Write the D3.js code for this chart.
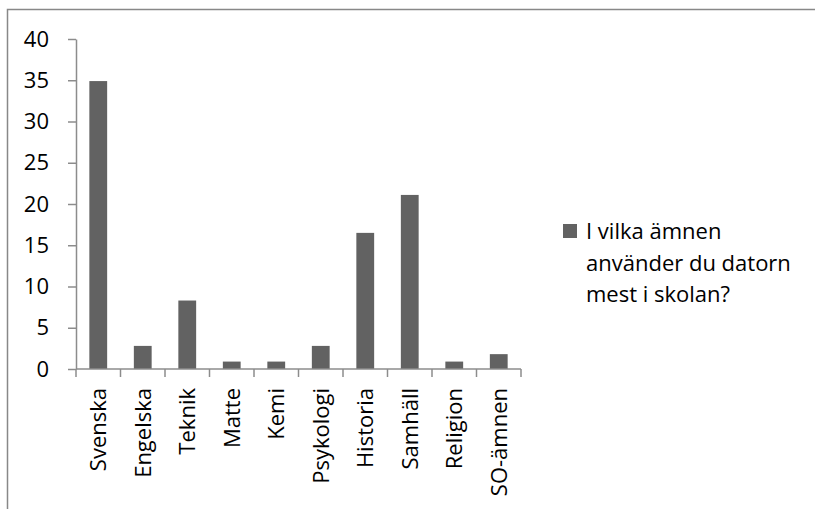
<!DOCTYPE html>
<html>
<head>
<meta charset="utf-8">
<script src="https://cdn.jsdelivr.net/npm/d3@7"></script>
<style>
	body { margin: 0; background: #fff; }
	svg text { font-family: "Open Sans", sans-serif; fill: #000; }
</style>
</head>
<body>
<svg id="chart" width="815" height="509"></svg>
<script>
var subjects = ['Svenska', 'Engelska', 'Teknik', 'Matte', 'Kemi', 'Psykologi', 'Historia', 'Samhäll', 'Religion', 'SO-ämnen'];
var values = [34.9, 2.8, 8.3, 0.9, 0.9, 2.8, 16.5, 21.1, 0.9, 1.8];
var yTicks = [0, 5, 10, 15, 20, 25, 30, 35, 40];
var legendLines = ['I vilka ämnen', 'använder du datorn', 'mest i skolan?'];

var svg = d3.select('#chart');
var barColor = '#626262';
var axisColor = '#8c8c8c';
var fontSize = '22px';

// chart border (only top and left show inside the picture)
svg.append('rect')
	.attr('x', 7.5)
	.attr('y', 9.5)
	.attr('width', 830)
	.attr('height', 530)
	.attr('fill', 'none')
	.attr('stroke', '#888')
	.attr('stroke-width', 1.5);

var x = d3.scaleBand()
	.domain(subjects)
	.range([76, 521])
	.paddingInner(0.6)
	.paddingOuter(0.3);

var y = d3.scaleLinear()
	.domain([0, 40])
	.range([369, 39]);

// bars
svg.selectAll('rect.bar')
	.data(values)
	.enter().append('rect')
	.attr('class', 'bar')
	.attr('x', function(d, i){ return x(subjects[i]); })
	.attr('y', function(d){ return y(d); })
	.attr('width', x.bandwidth())
	.attr('height', function(d){ return y(0) - y(d); })
	.attr('fill', barColor);

// y axis
var yAxis = svg.append('g')
	.attr('transform', 'translate(76,0)')
	.call(d3.axisLeft(y).tickValues(yTicks).tickSize(8).tickPadding(19).tickSizeOuter(0));
yAxis.selectAll('text').style('font-size', fontSize);
yAxis.select('.domain').attr('stroke', axisColor).attr('stroke-width', 1.5);
yAxis.selectAll('.tick line').attr('stroke', axisColor).attr('stroke-width', 1.5);

// x axis with ticks between categories
var step = x.step();
var xAxis = svg.append('g')
	.attr('transform', 'translate(0,369)');
xAxis.append('line')
	.attr('x1', 76).attr('x2', 521)
	.attr('y1', 0).attr('y2', 0)
	.attr('stroke', axisColor).attr('stroke-width', 1.5);
xAxis.selectAll('line.tick')
	.data(d3.range(subjects.length + 1))
	.enter().append('line')
	.attr('class', 'tick')
	.attr('x1', function(i){ return 76 + i * step; })
	.attr('x2', function(i){ return 76 + i * step; })
	.attr('y1', 0).attr('y2', 8)
	.attr('stroke', axisColor).attr('stroke-width', 1.5);
xAxis.selectAll('text')
	.data(subjects)
	.enter().append('text')
	.attr('transform', function(d){
		return 'translate(' + (x(d) + x.bandwidth() / 2 + 8) + ',19) rotate(-90)';
	})
	.attr('text-anchor', 'end')
	.style('font-size', fontSize)
	.text(function(d){ return d; });

// legend
var legend = svg.append('g').attr('transform', 'translate(563,224)');
legend.append('rect')
	.attr('width', 14)
	.attr('height', 14)
	.attr('fill', barColor);
legend.selectAll('text')
	.data(legendLines)
	.enter().append('text')
	.attr('x', 23)
	.attr('y', function(d, i){ return 15 + i * 31.5; })
	.style('font-size', fontSize)
	.text(function(d){ return d; });
</script>
</body>
</html>
